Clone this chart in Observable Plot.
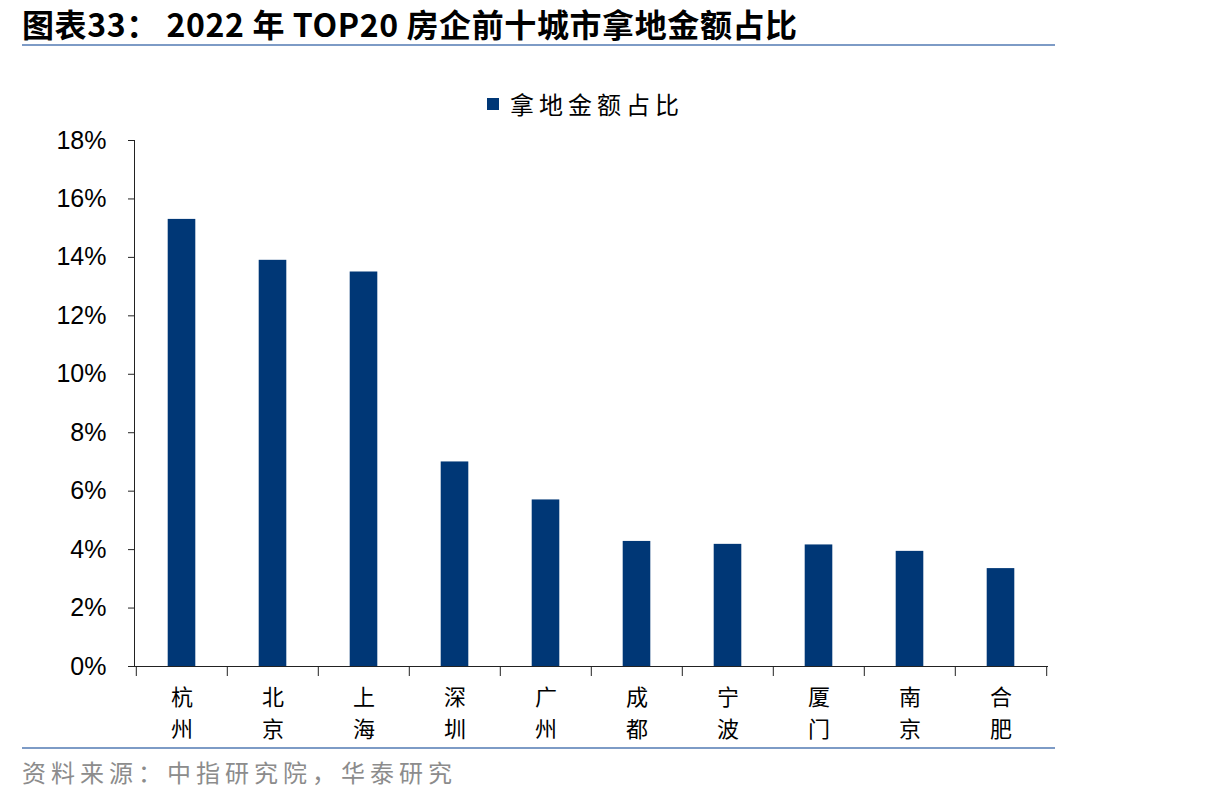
<!DOCTYPE html>
<html><head><meta charset="utf-8">
<script src="https://cdn.jsdelivr.net/npm/d3@7"></script>
<script src="https://cdn.jsdelivr.net/npm/@observablehq/plot@0.6"></script>
<style>
body{margin:0;background:#fff;}
#page{position:relative;width:1206px;height:804px;overflow:hidden;font-family:"Noto Sans CJK SC",sans-serif;background:#fff;}
#title{position:absolute;left:22px;top:0px;font-size:32px;letter-spacing:0.6px;font-weight:bold;white-space:nowrap;color:#000;font-family:"Liberation Sans Narrow","Noto Sans CJK SC",sans-serif;line-height:normal;}
.rule{position:absolute;left:22px;width:1033px;height:2px;background:#7d9bc6;}
#legend{position:absolute;top:86px;left:487px;display:flex;align-items:center;font-size:24px;letter-spacing:5px;color:#000;line-height:36px;}
#legend .sw{width:12px;height:12px;background:#003776;margin-right:11px;}
#chart{position:absolute;left:0;top:125px;}
#source{position:absolute;left:22px;top:754px;font-size:24px;color:#8c8c8c;letter-spacing:5px;line-height:36px;white-space:nowrap;}
</style></head>
<body>
<div id="page">
  <div id="title">图表33： 2022 年 TOP20 房企前十城市拿地金额占比</div>
  <div class="rule" style="top:44px"></div>
  <div id="legend"><div class="sw"></div><span>拿地金额占比</span></div>
  <div id="chart"></div>
  <div class="rule" style="top:747px"></div>
  <div id="source">资料来源：中指研究院，华泰研究</div>
</div>
<script>
const cities = ["杭州","北京","上海","深圳","广州","成都","宁波","厦门","南京","合肥"];
const shares = [15.3, 13.9, 13.5, 7.0, 5.7, 4.28, 4.18, 4.16, 3.94, 3.35];
const yTicks = [0, 2, 4, 6, 8, 10, 12, 14, 16, 18];

const data = cities.map((c, i) => ({city: c, share: shares[i]}));
const W = 1206, H = 620, mL = 134, mR = 158;
const band = (W - mL - mR) / cities.length;
const barW = 28;

const chart = Plot.plot({
  width: W, height: H,
  marginTop: 15, marginBottom: 79, marginLeft: mL, marginRight: mR,
  style: {fontFamily: "'Liberation Sans', Arial, sans-serif", background: "transparent", color: "#000"},
  x: {domain: cities, padding: 0},
  y: {domain: [0, 18]},
  marks: [
    Plot.barY(data, {x: "city", y: "share", fill: "#003776", insetLeft: (band - barW) / 2, insetRight: (band - barW) / 2}),
    Plot.frame({anchor: "left", stroke: "#222"}),
    Plot.ruleY([0], {stroke: "#222"}),
    Plot.axisY({ticks: yTicks, tickFormat: d => d + "%", tickSize: 6, tickPadding: 22, fontSize: 25, stroke: "#222", label: null}),
    Plot.axisX({tickSize: 10, fill: "none", stroke: "#222", dx: -band / 2, label: null}),
    Plot.axisX([cities[cities.length - 1]], {tickSize: 10, fill: "none", stroke: "#222", dx: band / 2, label: null}),
    Plot.axisX({tickSize: 0, tickPadding: 16, fontSize: 22, lineHeight: 1.46, fontFamily: "'Noto Sans CJK SC', sans-serif", tickFormat: d => d[0] + "\n" + d[1], label: null})
  ]
});
document.getElementById("chart").appendChild(chart);
</script>
</body></html>
